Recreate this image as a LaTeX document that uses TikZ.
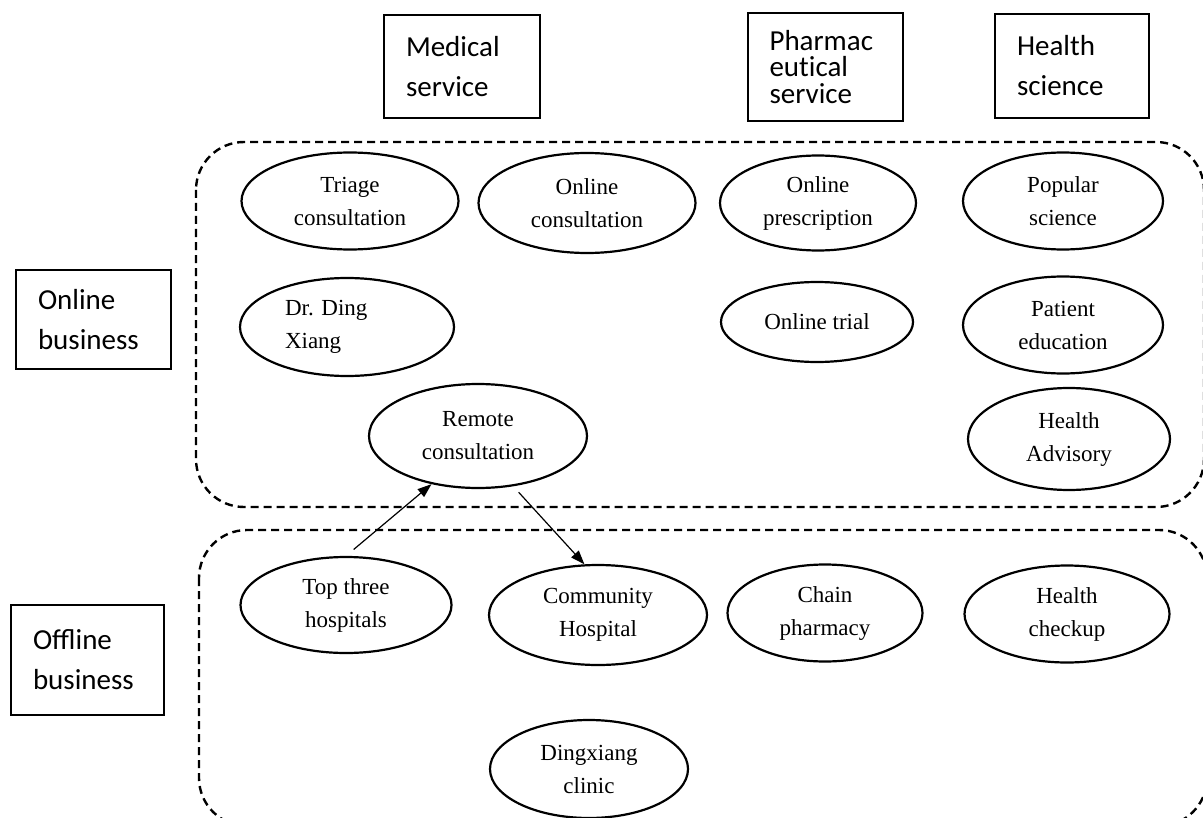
\documentclass[tikz,border=0pt]{standalone}
\usepackage{fontspec}
\setmainfont{Liberation Serif}
\newfontfamily\calfont{Carlito}
\usetikzlibrary{shapes.geometric,arrows.meta}

\begin{document}
\begin{tikzpicture}[x=0.5pt,y=-0.5pt,
		catbox/.style={draw,line width=1pt,rectangle,inner xsep=11pt,inner ysep=0pt,align=left,
			font=\calfont\fontsize{14.5}{20}\selectfont},
		bubble/.style={draw,ellipse,line width=1.1pt,inner sep=0pt,align=center,
			font=\fontsize{11.5}{16.5}\selectfont},
		group/.style={line width=1.2pt,dash pattern=on 4pt off 2.5pt,rounded corners=24pt},
		arr/.style={-{Triangle[length=7pt,width=5pt]},line width=0.6pt}]
	\useasboundingbox (0,0) rectangle (1203,818);

	% service columns
	\node [catbox,text width=56pt,minimum height=51.5pt] (medical) at (462,66.5) {Medical\\service};
	\node [catbox,text width=55.5pt,minimum height=54pt,font=\calfont\fontsize{14.5}{13.25}\selectfont] (pharma) at (825,67) {Pharmac\\eut\kern0pt ical\\service};
	\node [catbox,text width=55pt,minimum height=52pt] (science) at (1072,66) {Health\\science};

	% business rows
	\node [catbox,text width=55.5pt,minimum height=49.5pt] (online) at (93.5,319.5) {Online\\business};
	\node [catbox,text width=54.5pt,minimum height=55pt] (offline) at (87.5,660) {Offline\\business};

	\draw [group] (196,142) rectangle (1204,507);
	\draw [group] (199,530) rectangle (1207,826);

	% online business
	\node [bubble,minimum width=108.5pt,minimum height=48.5pt] (triage) at (350,201) {Triage\\consultation};
	\node [bubble,minimum width=108.5pt,minimum height=50pt] (onlcons) at (587,203) {Online\\consultation};
	\node [bubble,minimum width=98pt,minimum height=47.5pt] (prescr) at (818,203) {Online\\prescription};
	\node [bubble,minimum width=100pt,minimum height=48.5pt] (popsci) at (1063,201) {Popular\\science};
	\node [bubble,minimum width=107pt,minimum height=49pt,text width=62pt,align=left] (ding) at (347,327) {Dr.\ Ding\\Xiang};
	\node [bubble,minimum width=96pt,minimum height=40pt] (trial) at (817,322) {Online trial};
	\node [bubble,minimum width=100pt,minimum height=48.5pt] (patient) at (1063,325) {Patient\\education};
	\node [bubble,minimum width=109pt,minimum height=52pt] (remote) at (478,436) {Remote\\consultation};
	\node [bubble,minimum width=101pt,minimum height=51pt] (advisory) at (1069,439) {Health\\Advisory};

	% offline business
	\node [bubble,minimum width=105.5pt,minimum height=48pt] (topthree) at (346,605) {Top three\\hospitals};
	\node [bubble,minimum width=109pt,minimum height=50pt] (community) at (598,615) {Community\\Hospital};
	\node [bubble,minimum width=97.5pt,minimum height=48.5pt] (chain) at (825,613) {Chain\\pharmacy};
	\node [bubble,minimum width=102.5pt,minimum height=48.5pt] (checkup) at (1067,614) {Health\\checkup};
	\node [bubble,minimum width=99pt,minimum height=49pt] (clinic) at (589,769) {Dingxiang\\clinic};

	\draw [arr,shorten <=5pt] (topthree.north) -- (remote.226);
	\draw [arr,shorten <=4pt] (remote.-55) -- (community.105);
\end{tikzpicture}
\end{document}
